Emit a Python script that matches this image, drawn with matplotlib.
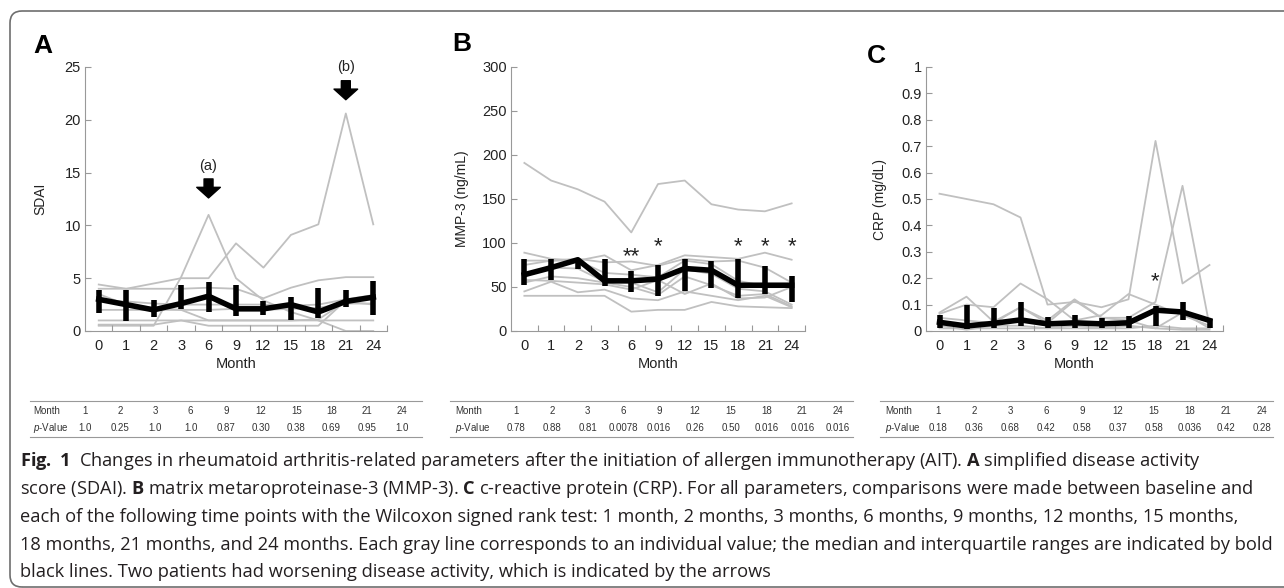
import numpy as np
import matplotlib
matplotlib.use("Agg")
import matplotlib.pyplot as plt
from matplotlib import font_manager
from matplotlib.lines import Line2D
from matplotlib.patches import FancyBboxPatch
from matplotlib.transforms import IdentityTransform

W, H = 1284, 588

fams = {f.name for f in font_manager.fontManager.ttflist}
cap_font = "Liberation Sans Narrow" if "Liberation Sans Narrow" in fams else "Open Sans"

plt.rcParams["font.family"] = "Liberation Sans"
plt.rcParams["mathtext.fontset"] = "custom"
plt.rcParams["mathtext.rm"] = cap_font
plt.rcParams["mathtext.bf"] = cap_font + ":bold"
plt.rcParams["mathtext.it"] = "Liberation Sans:italic"

months = ["0", "1", "2", "3", "6", "9", "12", "15", "18", "21", "24"]

# SDAI, one row per patient
sdai_patients = [
    [4.4, 4.0, 4.5, 5.0, 5.0, 8.3, 6.0, 9.1, 10.1, 20.6, 10.1],
    [0.5, 0.5, 0.5, 5.1, 11.0, 5.0, 2.9, 1.8, 1.0, 0.0, 0.0],
    [4.0, 4.0, 4.0, 4.0, 4.1, 4.0, 3.1, 4.1, 4.8, 5.1, 5.1],
    [2.9, 2.8, 2.6, 2.5, 2.5, 2.5, 2.5, 2.4, 2.5, 3.0, 3.4],
    [2.0, 2.0, 2.0, 2.0, 2.0, 2.1, 2.0, 2.1, 2.2, 2.6, 2.6],
    [1.0, 1.0, 1.0, 1.0, 0.5, 0.5, 0.5, 0.5, 0.5, 2.9, 3.1],
    [0.6, 0.6, 0.6, 1.0, 1.0, 1.0, 1.0, 1.0, 1.0, 1.0, 1.0],
    [3.5, 2.5, 2.2, 2.0, 1.0, 1.0, 1.0, 1.0, 1.1, 2.8, 2.5],
]
sdai_median = [3.0, 2.5, 2.0, 2.6, 3.3, 2.1, 2.1, 2.5, 1.8, 2.8, 3.2]
sdai_q1 = [1.7, 0.95, 1.3, 2.1, 1.8, 1.45, 1.5, 1.0, 1.2, 2.3, 1.5]
sdai_q3 = [3.9, 3.9, 2.9, 4.35, 4.6, 4.4, 2.8, 3.25, 4.1, 3.9, 4.7]

# MMP-3 (ng/mL)
mmp3_patients = [
    [191, 171, 161, 147, 112, 167, 171, 144, 138, 136, 145],
    [89, 82, 80, 86, 69, 75, 86, 84, 82, 89, 81],
    [80, 80, 82, 78, 79, 74, 82, 79, 80, 72, 55],
    [75, 80, 80, 66, 64, 61, 80, 76, 57, 51, 52],
    [62, 72, 71, 56, 55, 44, 70, 65, 48, 45, 30],
    [55, 62, 60, 55, 50, 41, 62, 52, 40, 42, 28],
    [45, 56, 44, 47, 37, 35, 45, 40, 35, 40, 27],
    [40, 40, 40, 40, 22, 24, 24, 33, 28, 27, 26],
    [58, 57, 55, 53, 47, 58, 42, 54, 37, 38, 50],
]
mmp3_median = [64, 72, 81, 57, 57, 59, 71, 69, 52, 52, 52]
mmp3_q1 = [52, 58, 71, 51, 44, 40, 45, 49, 38, 42, 33]
mmp3_q3 = [82, 82, 82, 82, 68, 75, 82, 80, 82, 74, 62]

# CRP (mg/dL)
crp_patients = [
    [0.52, 0.50, 0.48, 0.43, 0.10, 0.11, 0.09, 0.12, 0.72, 0.18, 0.25],
    [0.07, 0.13, 0.035, 0.09, 0.04, 0.12, 0.05, 0.05, 0.11, 0.55, 0.02],
    [0.065, 0.10, 0.09, 0.18, 0.12, 0.04, 0.06, 0.14, 0.10, 0.06, 0.02],
    [0.05, 0.04, 0.03, 0.09, 0.03, 0.115, 0.05, 0.04, 0.01, 0.07, 0.01],
    [0.03, 0.02, 0.03, 0.04, 0.02, 0.03, 0.02, 0.03, 0.08, 0.07, 0.04],
    [0.01, 0.01, 0.01, 0.01, 0.01, 0.01, 0.01, 0.01, 0.02, 0.01, 0.01],
    [0.02, 0.005, 0.02, 0.02, 0.01, 0.02, 0.01, 0.02, 0.01, 0.005, 0.005],
]
crp_median = [0.033, 0.019, 0.029, 0.042, 0.027, 0.031, 0.027, 0.031, 0.079, 0.072, 0.04]
crp_q1 = [0.01, 0.006, 0.01, 0.02, 0.01, 0.01, 0.01, 0.012, 0.02, 0.043, 0.01]
crp_q3 = [0.061, 0.098, 0.087, 0.109, 0.052, 0.059, 0.05, 0.057, 0.095, 0.108, 0.046]

# p-value tables
table_months = ["1", "2", "3", "6", "9", "12", "15", "18", "21", "24"]
p_sdai = ["1.0", "0.25", "1.0", "1.0", "0.87", "0.30", "0.38", "0.69", "0.95", "1.0"]
p_mmp3 = ["0.78", "0.88", "0.81", "0.0078", "0.016", "0.26", "0.50", "0.016", "0.016", "0.016"]
p_crp = ["0.18", "0.36", "0.68", "0.42", "0.58", "0.37", "0.58", "0.036", "0.42", "0.28"]


def fx(px):
    return px / W


def fy(py):
    return 1 - py / H


fig = plt.figure(figsize=(W / 100, H / 100), dpi=100)
fig.patch.set_facecolor("white")

# rounded frame around the figure
fig.add_artist(FancyBboxPatch((10, 1), 1320, 576, boxstyle="round,pad=0,rounding_size=12",
                              transform=IdentityTransform(), fc="none", ec="#6e6e6e", lw=1.2))

axA = fig.add_axes([fx(85), fy(331), 302 / W, 264 / H])
axB = fig.add_axes([fx(511), fy(331), 294 / W, 264 / H])
axC = fig.add_axes([fx(926), fy(331), 297 / W, 264 / H])

x = np.arange(len(months))


def draw(ax, patients, med, q1, q3):
    for p in patients:
        ax.plot(x, p, color="#c0c0c0", lw=1.3, zorder=1)
    med = np.array(med)
    ax.errorbar(x, med, yerr=[med - np.array(q1), np.array(q3) - med], color="black",
                lw=4.0, elinewidth=4.0, capsize=0, zorder=3, clip_on=False)


def style(ax, yticks, ylabel, labx):
    ax.set_xlim(-0.5, 10.5)
    ax.set_ylim(yticks[0], yticks[-1])
    ax.set_xticks(x)
    ax.set_xticklabels(months)
    ax.set_xticks(np.arange(0.5, 11, 1), minor=True)
    ax.tick_params(axis="x", which="major", length=0, pad=6, labelsize=10.5, labelcolor="#222")
    ax.tick_params(axis="x", which="minor", direction="in", length=4, width=0.8, color="#999")
    ax.set_yticks(yticks)
    ax.set_yticklabels([f"{v:g}" for v in yticks])
    ax.tick_params(axis="y", direction="in", length=4, width=0.8, color="#999", pad=3,
                   labelsize=10.5, labelcolor="#222")
    for s in ("top", "right"):
        ax.spines[s].set_visible(False)
    for s in ("left", "bottom"):
        ax.spines[s].set_color("#999")
        ax.spines[s].set_linewidth(0.8)
    ax.set_xlabel("Month", fontsize=10.5, color="#222", labelpad=3)
    ax.set_ylabel(ylabel, fontsize=10, color="#222")
    ax.yaxis.set_label_coords(labx, 0.5)


draw(axA, sdai_patients, sdai_median, sdai_q1, sdai_q3)
draw(axB, mmp3_patients, mmp3_median, mmp3_q1, mmp3_q3)
draw(axC, crp_patients, crp_median, crp_q1, crp_q3)

style(axA, np.arange(0, 26, 5), "SDAI", -0.125)
style(axB, np.arange(0, 301, 50), "MMP-3 (ng/mL)", -0.142)
style(axC, np.round(np.arange(0, 1.01, 0.1), 1), "CRP (mg/dL)", -0.131)

# arrows for the two patients with worsening activity
arrow = dict(arrowstyle="simple,head_length=0.45,head_width=1.0,tail_width=0.38",
             fc="black", ec="black", shrinkA=0, shrinkB=0, mutation_scale=17)
axA.annotate("", xy=(4, 12.6), xytext=(4, 14.4), arrowprops=arrow)
axA.annotate("", xy=(9, 21.9), xytext=(9, 23.7), arrowprops=arrow, annotation_clip=False)
axA.text(4, 15.6, "(a)", ha="center", va="center", fontsize=10.5, color="#222")
axA.text(9, 25.0, "(b)", ha="center", va="center", fontsize=10.5, color="#222", clip_on=False)

# significance marks
for i, s, v in [(4, "**", 85), (5, "*", 96), (8, "*", 96), (9, "*", 96), (10, "*", 96)]:
    axB.text(i, v, s, ha="center", va="center", fontsize=16, color="#222")
axC.text(8, 0.185, "*", ha="center", va="center", fontsize=16, color="#222")

# panel letters
for lx, ly, s in [(33, 53, "A"), (452, 51, "B"), (867, 63, "C")]:
    fig.text(fx(lx), fy(ly), s, fontsize=19, fontweight="bold", ha="left", va="baseline")


def table(x0, x1, label_x, first_x, step, pvals):
    for yy in (401, 437):
        fig.add_artist(Line2D([fx(x0), fx(x1)], [fy(yy), fy(yy)], color="#999", lw=0.8))
    fig.text(fx(label_x), fy(411), "Month", ha="left", va="center", fontsize=7, color="#333")
    fig.text(fx(label_x), fy(428), r"$p$-Value", ha="left", va="center", fontsize=7, color="#333")
    for k, (m, p) in enumerate(zip(table_months, pvals)):
        xx = first_x + k * step
        fig.text(fx(xx), fy(411), m, ha="center", va="center", fontsize=7, color="#333")
        fig.text(fx(xx), fy(428), p, ha="center", va="center", fontsize=7, color="#333")


table(30, 422, 33, 85, 35.2, p_sdai)
table(450, 853, 455, 516, 35.8, p_mmp3)
table(880, 1273, 885, 938, 36.0, p_crp)

# caption
cap_lines = [
    r"$\mathbf{Fig.\ 1}$  Changes in rheumatoid arthritis-related parameters after the initiation of "
    r"allergen immunotherapy (AIT). $\mathbf{A}$ simplified disease activity",
    r"score (SDAI). $\mathbf{B}$ matrix metaroproteinase-3 (MMP-3). $\mathbf{C}$ c-reactive protein (CRP). "
    "For all parameters, comparisons were made between baseline and",
    "each of the following time points with the Wilcoxon signed rank test: 1 month, 2 months, "
    "3 months, 6 months, 9 months, 12 months, 15 months,",
    "18 months, 21 months, and 24 months. Each gray line corresponds to an individual value; "
    "the median and interquartile ranges are indicated by bold",
    "black lines. Two patients had worsening disease activity, which is indicated by the arrows",
]
cap_base = [466, 494, 522, 550, 577]
texts = [fig.text(fx(20), fy(b), s, fontsize=10, family=cap_font, color="#231f20",
                  ha="left", va="baseline") for s, b in zip(cap_lines, cap_base)]
fig.canvas.draw()
r = fig.canvas.get_renderer()
w = texts[3].get_window_extent(r).width
for t in texts:
    t.set_fontsize(10 * 1258 / w)

fig.savefig("out.png", dpi=100)
